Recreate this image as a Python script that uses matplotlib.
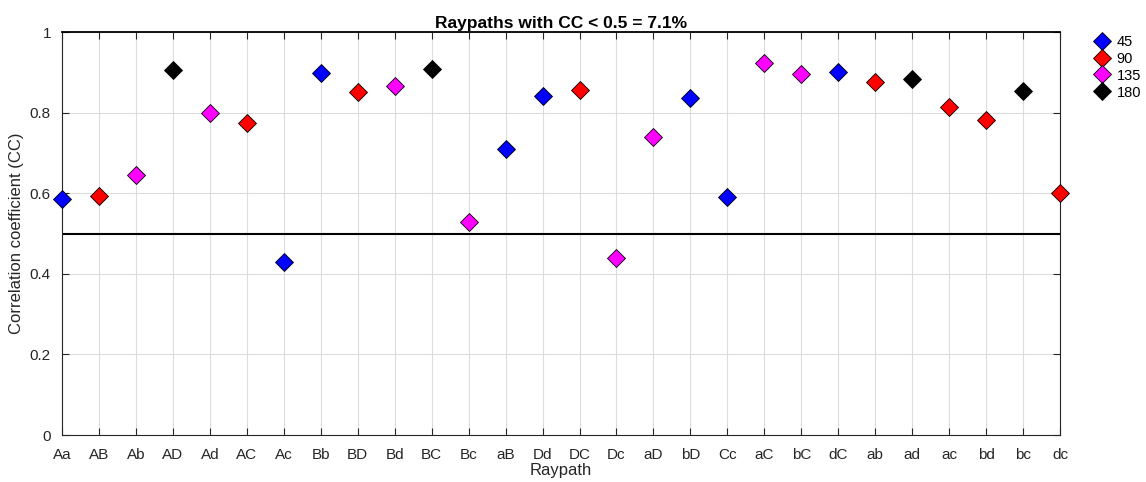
import numpy as np
import matplotlib.pyplot as plt

plt.rcParams['font.family'] = ['Liberation Sans', 'DejaVu Sans']

# Raypath labels, correlation coefficients and angle group of each raypath
raypaths = ['Aa', 'AB', 'Ab', 'AD', 'Ad', 'AC', 'Ac', 'Bb', 'BD', 'Bd', 'BC', 'Bc',
            'aB', 'Dd', 'DC', 'Dc', 'aD', 'bD', 'Cc', 'aC', 'bC', 'dC', 'ab', 'ad',
            'ac', 'bd', 'bc', 'dc']
cc = [0.585, 0.593, 0.645, 0.905, 0.800, 0.775, 0.430, 0.898, 0.852, 0.866,
      0.908, 0.528, 0.710, 0.840, 0.855, 0.440, 0.740, 0.837, 0.590, 0.923,
      0.897, 0.900, 0.877, 0.884, 0.815, 0.782, 0.853, 0.600]
angle = [45, 90, 135, 180, 135, 90, 45, 45, 90, 135, 180, 135, 45, 45, 90, 135,
         135, 45, 45, 135, 135, 45, 90, 180, 90, 90, 180, 90]

angle_groups = [45, 90, 135, 180]
group_colors = ['#0000ff', '#ff0000', '#ff00ff', '#000000']
threshold = 0.5

x = np.arange(1, len(raypaths) + 1)
cc = np.array(cc)
angle = np.array(angle)
pct = 100.0 * np.sum(cc < threshold) / len(cc)

fig = plt.figure(figsize=(11.46, 4.82), dpi=100)
ax = fig.add_axes([0.0541, 0.0975, 0.8709, 0.8361])

dark = '#262626'
ax.grid(True, color='#dcdcdc', linewidth=0.8)
ax.set_axisbelow(True)
ax.axhline(threshold, color='black', linewidth=1.5, zorder=2)

for a, c in zip(angle_groups, group_colors):
    m = angle == a
    ax.plot(x[m], cc[m], linestyle='none', marker='D', markersize=9,
            markerfacecolor=c, markeredgecolor='black', markeredgewidth=0.6,
            label=str(a), zorder=3, clip_on=False)

ax.set_xlim(1, len(raypaths))
ax.set_ylim(0, 1)
ax.set_xticks(x)
ax.set_xticklabels(raypaths)
ax.set_yticks([0, 0.2, 0.4, 0.6, 0.8, 1])
ax.set_yticklabels(['0', '0.2', '0.4', '0.6', '0.8', '1'])
ax.tick_params(direction='in', top=True, right=True, length=5, width=0.8,
               colors=dark, labelsize=11)
ax.tick_params(axis='x', pad=9)
ax.tick_params(axis='y', pad=8)
for s in ['left', 'bottom', 'right']:
    ax.spines[s].set_color(dark)
    ax.spines[s].set_linewidth(0.8)
ax.spines['top'].set_color('black')
ax.spines['top'].set_linewidth(1.3)

ax.set_xlabel('Raypath', fontsize=12, color=dark, labelpad=1)
ax.set_ylabel('Correlation coefficient (CC)', fontsize=12, color=dark, labelpad=4)
ax.set_title('Raypaths with CC < %.1f = %.1f%%' % (threshold, pct),
             fontsize=12.5, fontweight='bold', pad=3)

fig.legend(loc='upper left', bbox_to_anchor=(0.949, 0.94), frameon=False,
           fontsize=10.5, handletextpad=0.4, labelspacing=0.2,
           handlelength=1.2, borderaxespad=0)

fig.savefig('out.png', dpi=100)
plt.close(fig)
